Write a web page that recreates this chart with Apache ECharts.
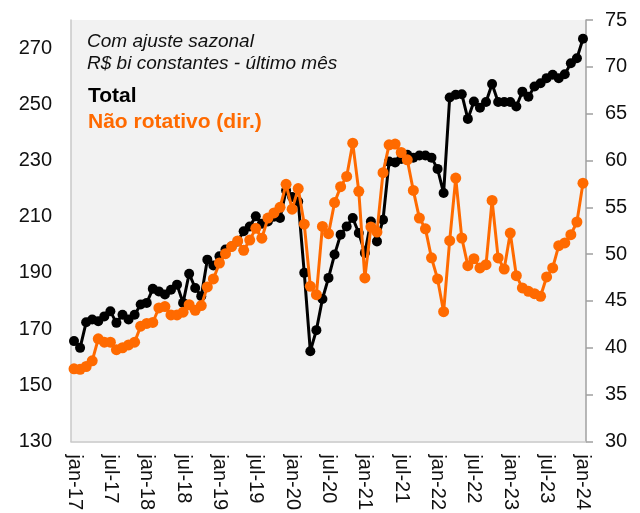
<!DOCTYPE html>
<html>
<head>
<meta charset="utf-8">
<script src="https://cdn.jsdelivr.net/npm/echarts@6/dist/echarts.min.js"></script>
<style>html,body{margin:0;padding:0;background:#fff}#c{width:640px;height:513px}</style>
</head>
<body>
<div id="c"></div>
<script>
var monthNames = ['jan','fev','mar','abr','mai','jun','jul','ago','set','out','nov','dez'];
var categories = [];
for (var y = 17; y <= 24; y++) {
  for (var m = 0; m < 12; m++) {
    if (y === 24 && m > 0) break;
    categories.push(monthNames[m] + '-' + y);
  }
}
var totalValues = [
  165.7,163.3,172.4,173.4,172.8,174.5,176.3,172.2,175.1,173.4,175.1,178.7,
  179.3,184.3,183.4,182.3,184.0,185.8,179.3,189.7,184.6,181.7,194.7,192.6,
  195.9,198.3,199.4,201.2,204.8,206.5,210.1,207.5,208.3,210.0,209.5,219.3,
  217.0,215.4,190.0,162.1,169.6,180.7,188.2,196.5,203.6,206.5,209.5,204.2,
  197.1,208.3,201.2,208.9,229.6,229.3,230.5,232.0,231.0,231.8,231.8,231.0,
  227.0,218.4,252.4,253.4,253.6,244.8,251.0,248.8,250.8,257.2,250.8,250.8,
  250.8,249.2,254.5,252.7,256.3,257.5,259.3,260.5,259.3,260.7,264.6,266.4,
  273.3
];
var naoRotativoValues = [
  37.75,37.7,38.0,38.6,40.95,40.6,40.6,39.8,40.0,40.3,40.6,42.3,
  42.6,42.7,44.25,44.4,43.5,43.5,43.8,44.6,44.0,44.5,46.5,47.35,
  49.05,50.05,50.8,51.4,50.4,51.5,52.75,51.7,53.85,54.4,55.0,57.45,
  54.8,57.0,53.2,46.56,45.67,52.96,52.18,55.5,57.2,58.29,61.85,56.7,
  47.46,52.9,52.35,58.7,61.67,61.75,60.85,60.07,56.8,53.85,52.7,49.6,
  47.35,43.85,51.43,58.12,51.72,48.77,49.51,48.52,48.87,55.73,49.59,48.41,
  52.25,47.7,46.39,46.03,45.78,45.5,47.56,48.52,50.9,51.19,52.07,53.43,
  57.58
];
var leftAxisMin = 130, leftAxisMax = 280, leftAxisStep = 20;
var rightAxisMin = 30, rightAxisMax = 75, rightAxisStep = 5;

var FONT = '"Liberation Sans", Arial, sans-serif';
var ORANGE = '#ff6a00';
var chart = echarts.init(document.getElementById('c'), null, {renderer: 'canvas'});
chart.setOption({
  animation: false,
  backgroundColor: '#ffffff',
  grid: {left: 71, right: 54, top: 20, bottom: 71, show: true, backgroundColor: '#f2f2f2', borderWidth: 0},
  xAxis: {
    type: 'category',
    data: categories,
    boundaryGap: true,
    axisLine: {show: true, lineStyle: {color: '#c8c8c8', width: 1.5}},
    axisTick: {show: false},
    axisLabel: {interval: 5, rotate: -90, margin: 13, fontSize: 20, color: '#111', fontFamily: FONT},
    splitLine: {show: false}
  },
  yAxis: [
    {
      type: 'value', position: 'left', min: leftAxisMin, max: leftAxisMax, interval: leftAxisStep,
      axisLine: {show: true, lineStyle: {color: '#c8c8c8', width: 1.5}},
      axisTick: {show: false},
      axisLabel: {margin: 19, fontSize: 20, color: '#111', fontFamily: FONT, showMaxLabel: false,
        formatter: function (v) { return v >= leftAxisMax ? '' : String(v); }},
      splitLine: {show: false}
    },
    {
      type: 'value', position: 'right', min: rightAxisMin, max: rightAxisMax, interval: rightAxisStep,
      axisLine: {show: true, lineStyle: {color: '#a0a0a0', width: 1.5}},
      axisTick: {show: true, inside: false, length: 7, lineStyle: {color: '#a0a0a0', width: 1.5}},
      axisLabel: {margin: 19, fontSize: 20, color: '#111', fontFamily: FONT},
      splitLine: {show: false}
    }
  ],
  series: [
    {
      name: 'Total', type: 'line', yAxisIndex: 0, data: totalValues,
      symbol: 'circle', symbolSize: 10, showAllSymbol: true,
      lineStyle: {color: '#000', width: 3}, itemStyle: {color: '#000'}, z: 2
    },
    {
      name: 'Não rotativo (dir.)', type: 'line', yAxisIndex: 1, data: naoRotativoValues,
      symbol: 'circle', symbolSize: 11, showAllSymbol: true,
      lineStyle: {color: ORANGE, width: 3}, itemStyle: {color: ORANGE}, z: 3
    }
  ],
  graphic: [
    {type: 'text', x: 87, y: 42, style: {text: 'Com ajuste sazonal', font: 'italic 19px ' + FONT, fill: '#111', textAlign: 'left', verticalAlign: 'middle'}},
    {type: 'text', x: 87, y: 64, style: {text: 'R$ bi constantes - último mês', font: 'italic 19px ' + FONT, fill: '#111', textAlign: 'left', verticalAlign: 'middle'}},
    {type: 'text', x: 88, y: 96, style: {text: 'Total', font: 'bold 21px ' + FONT, fill: '#000', textAlign: 'left', verticalAlign: 'middle'}},
    {type: 'text', x: 88, y: 122, style: {text: 'Não rotativo (dir.)', font: 'bold 21px ' + FONT, fill: ORANGE, textAlign: 'left', verticalAlign: 'middle'}}
  ]
});
</script>
</body>
</html>
